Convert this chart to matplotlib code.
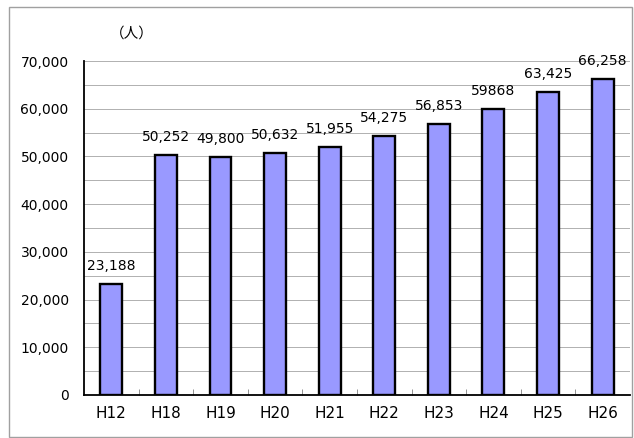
import matplotlib
matplotlib.use("Agg")
import matplotlib.pyplot as plt
from matplotlib.patches import Rectangle

plt.rcParams['font.family'] = ['DejaVu Sans', 'Noto Sans CJK JP']

# Data
years = ['H12', 'H18', 'H19', 'H20', 'H21', 'H22', 'H23', 'H24', 'H25', 'H26']
people = [23188, 50252, 49800, 50632, 51955, 54275, 56853, 59868, 63425, 66258]
labels = ['23,188', '50,252', '49,800', '50,632', '51,955', '54,275',
          '56,853', '59868', '63,425', '66,258']

fig = plt.figure(figsize=(6.34, 4.38), dpi=100)
ax = fig.add_axes([0.1325, 0.0982, 0.861, 0.7625])

x = range(len(years))
ax.bar(x, people, width=0.4, color='#9999ff', edgecolor='black', linewidth=1.7, zorder=3)

for xi, v, lab in zip(x, people, labels):
    ax.annotate(lab, xy=(xi, v), xytext=(0, 8), textcoords='offset points',
                ha='center', va='bottom', fontsize=10)

# grid every 5000
for g in range(5000, 70001, 5000):
    ax.axhline(g, color='#b0b0b0', linewidth=0.7, zorder=1)

ax.set_xlim(-0.5, len(years) - 0.5)
ax.set_ylim(0, 70000)
ax.set_yticks(range(0, 70001, 10000))
ax.set_yticklabels([f'{v:,}' for v in range(0, 70001, 10000)], fontsize=10)
ax.set_xticks(list(x))
ax.set_xticklabels(years, fontsize=11)
ax.tick_params(axis='x', length=0, pad=8)
ax.tick_params(axis='y', length=0, pad=11)
ax.set_xticks([i + 0.5 for i in range(len(years) - 1)], minor=True)
ax.tick_params(axis='x', which='minor', direction='in', length=4, color='#808080')

for s in ['top', 'right']:
    ax.spines[s].set_visible(False)
ax.spines['left'].set_linewidth(1.3)
ax.spines['bottom'].set_linewidth(1.3)

fig.text(132 / 634, 1 - 34 / 438, '（人）', fontsize=10.5, ha='center', va='center',
         family=['Noto Sans CJK JP', 'DejaVu Sans'])

fig.patches.append(Rectangle((9 / 634, 1 / 438), 623 / 634, 430 / 438,
                             transform=fig.transFigure, fill=False,
                             edgecolor='#a0a0a0', linewidth=1))

fig.savefig('out.png', dpi=100, facecolor='white')
